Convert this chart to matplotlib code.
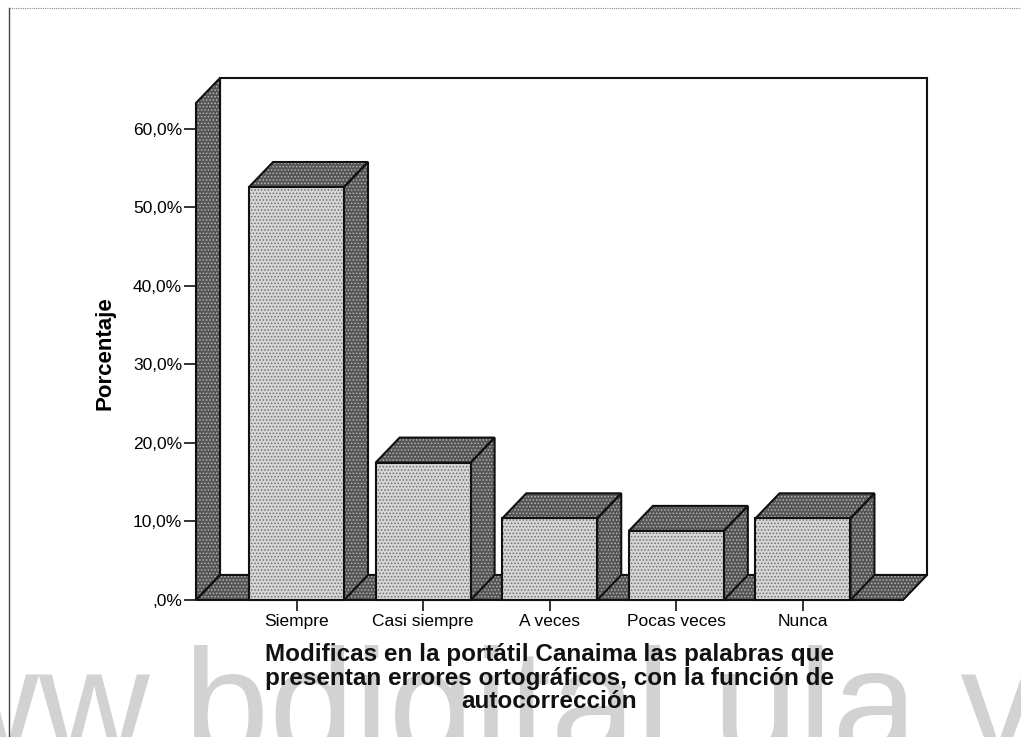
import matplotlib
matplotlib.use('agg')
import matplotlib.pyplot as plt
from matplotlib.patches import Polygon

categories = ['Siempre', 'Casi siempre', 'A veces', 'Pocas veces', 'Nunca']
values = [52.6, 17.5, 10.4, 8.8, 10.4]
y_ticks = [0, 10, 20, 30, 40, 50, 60]
y_tick_labels = [',0%', '10,0%', '20,0%', '30,0%', '40,0%', '50,0%', '60,0%']
x_title = ('Modificas en la portátil Canaima las palabras que\n'
           'presentan errores ortográficos, con la función de\n'
           'autocorrección')

plt.rcParams['font.family'] = ['Liberation Sans', 'DejaVu Sans']
plt.rcParams['hatch.linewidth'] = 0.7

W, H = 1021, 737
fig = plt.figure(figsize=(W / 100, H / 100), dpi=100, facecolor='white')

# watermark sits behind everything, cut off by the bottom of the page
fig.text(469.5 / W, 1 - 755 / H, 'www.bdigital.ula.ve', color='#d2d2d2', fontsize=110.5,
         ha='center', va='baseline', zorder=0)

# scanned page border
fig.add_artist(plt.Line2D([9 / W, 1], [1 - 8 / H, 1 - 8 / H], color='#888888', lw=0.8, ls=(0, (1, 1))))
fig.add_artist(plt.Line2D([9 / W, 9 / W], [0, 1 - 8 / H], color='#444444', lw=1.0))

ax = fig.add_axes([196 / W, 1 - 600 / H, 707 / W, 497 / H])
ax.patch.set_visible(False)
ax.set_xlim(-0.794, 4.79)
ax.set_ylim(0, 63.3)
for s in ax.spines.values():
    s.set_visible(False)

# depth of the fake 3d, in data units
dx = 24 / 126.6
dy = 25 / 7.85
bar_w = 0.75
x0, x1 = ax.get_xlim()
y1 = ax.get_ylim()[1]

dark = dict(facecolor='#555555', edgecolor='#b4b4b4', hatch='.....', lw=0)
light = dict(facecolor='#d6d6d6', edgecolor='#6e6e6e', hatch='.....', lw=0)


def face(points, style, z):
    ax.add_patch(Polygon(points, closed=True, clip_on=False, zorder=z, **style))
    ax.add_patch(Polygon(points, closed=True, clip_on=False, zorder=z + 0.1,
                         fill=False, edgecolor='#111111', lw=1.5))


# back wall, floor and left wall
ax.add_patch(Polygon([(x0 + dx, dy), (x0 + dx, y1 + dy), (x1 + dx, y1 + dy), (x1 + dx, dy)],
                     closed=True, clip_on=False, facecolor='white', edgecolor='#111111', lw=1.5, zorder=1))
face([(x0, 0), (x0 + dx, dy), (x1 + dx, dy), (x1, 0)], dark, 2)
face([(x0, 0), (x0, y1), (x0 + dx, y1 + dy), (x0 + dx, dy)], dark, 2)

for i, v in enumerate(values):
    l = i - bar_w / 2
    r = i + bar_w / 2
    z = 3 + i
    face([(r, 0), (r, v), (r + dx, v + dy), (r + dx, dy)], dark, z)
    face([(l, v), (l + dx, v + dy), (r + dx, v + dy), (r, v)], dark, z)
    face([(l, 0), (l, v), (r, v), (r, 0)], light, z + 0.2)

ax.set_xticks(range(len(categories)))
ax.set_xticklabels(categories, fontsize=12.5)
ax.set_yticks(y_ticks)
ax.set_yticklabels(y_tick_labels, fontsize=12.5)
ax.tick_params(axis='both', length=8, width=1.2, color='#111111', pad=2)
ax.tick_params(axis='y', length=9, pad=1)
ax.set_axisbelow(False)

fig.text(105 / W, 1 - 353 / H, 'Porcentaje', rotation=90, fontsize=16, fontweight='bold',
         ha='center', va='center', zorder=5)
fig.text(549.5 / W, 1 - 678 / H, x_title, fontsize=17.5, fontweight='bold', ha='center', va='center',
         linespacing=1.03, color='#111111', zorder=5)

fig.savefig('out.png', dpi=100)
